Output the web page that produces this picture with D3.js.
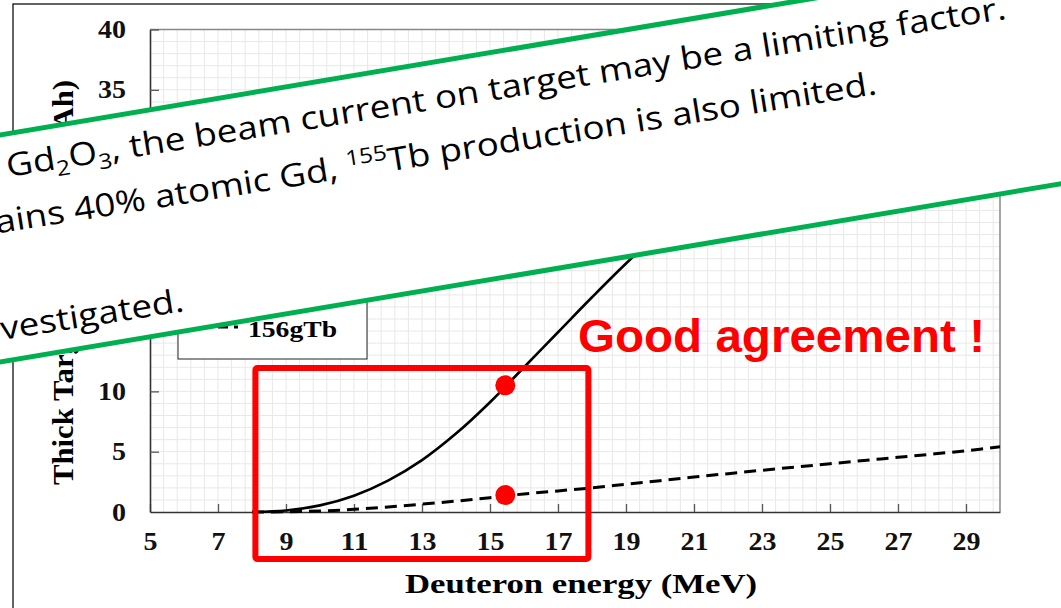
<!DOCTYPE html>
<html lang="en">
<head>
<meta charset="utf-8">
<title>Thick target yield</title>
<script src="https://cdn.jsdelivr.net/npm/d3@7/dist/d3.min.js"></script>
<style>
  body { margin: 0; background: #fff; }
  svg { display: block; }
</style>
</head>
<body>
<script>
// curve values
const energy    = [8, 9, 10, 11, 12, 13, 14, 15, 16, 17, 18, 19, 20, 21, 22, 23, 24, 25, 26, 27, 28, 29, 30];
const yield155  = [0, 0.12, 0.55, 1.35, 2.6, 4.3, 6.5, 9.1, 12.0, 14.9, 17.8, 20.6, 23.2, 25.5, 27.6, 29.4, 31.0, 32.5, 33.8, 35.0, 36.0, 36.9, 37.7];
const yield156g = [0, 0.02, 0.08, 0.22, 0.42, 0.65, 0.9, 1.18, 1.5, 1.75, 2.0, 2.3, 2.6, 2.9, 3.18, 3.46, 3.73, 4.0, 4.27, 4.53, 4.8, 5.08, 5.4];

// measured points (red dots)
const measuredE = [15.45, 15.45];
const measuredY = [10.5, 1.4];

const xTicks = [5, 7, 9, 11, 13, 15, 17, 19, 21, 23, 25, 27, 29];
const yTicks = [0, 5, 10, 15, 20, 25, 30, 35, 40];
const legendNames = ["155Tb", "156gTb"];

const xTitle = "Deuteron energy (MeV)";
const yTitle = "Thick Target Yield (MBq/\u03bcAh)";
const note = "Good agreement !";

// overlay slide text, one array per line: [text, kind]
const line1 = [["Gd", ""], ["2", "sub"], ["O", ""], ["3", "sub"], [", the beam current on target may be a limiting factor.", ""]];
const line2 = [["contains 40% atomic Gd, ", ""], ["155", "sup"], ["Tb production is also limited.", ""]];
const line4 = [["investigated.", ""]];

const W = 1061, H = 608;
const svg = d3.select("body").append("svg").attr("width", W).attr("height", H);

const x = d3.scaleLinear().domain([5, 30]).range([150, 1000]);
const y = d3.scaleLinear().domain([0, 40]).range([512, 29.5]);

// outer frame
svg.append("rect").attr("x", 13).attr("y", 4).attr("width", 1200).attr("height", 700)
  .attr("fill", "none").attr("stroke", "#111").attr("stroke-width", 1.3);

// grid
const grid = svg.append("g").attr("stroke", "#e8e8e8").attr("stroke-width", 1);
grid.selectAll(".gv").data(d3.range(1, 63).map(i => 5 + 0.4 * i)).enter().append("line")
  .attr("x1", d => x(d)).attr("x2", d => x(d)).attr("y1", y(40)).attr("y2", y(0));
grid.selectAll(".gh").data(d3.range(1, 40)).enter().append("line")
  .attr("x1", x(5)).attr("x2", x(30)).attr("y1", d => y(d)).attr("y2", d => y(d));

// top / right border
svg.append("path").attr("d", `M${x(5)},${y(40)}H${x(30)}V${y(0)}`)
  .attr("fill", "none").attr("stroke", "#888").attr("stroke-width", 1.5);

const tickFont = "'Liberation Serif', 'Times New Roman', serif";

const xAxis = svg.append("g").attr("transform", `translate(0,${y(0)})`)
  .call(d3.axisBottom(x).tickValues(xTicks).tickSizeInner(-8).tickSizeOuter(0).tickPadding(20));
const yAxis = svg.append("g").attr("transform", `translate(${x(5)},0)`)
  .call(d3.axisLeft(y).tickValues(yTicks).tickSizeInner(-9).tickSizeOuter(0).tickPadding(24));
[xAxis, yAxis].forEach(a => {
  a.select(".domain").attr("stroke", "#333").attr("stroke-width", 1.6);
  a.selectAll(".tick line").attr("stroke", "#555").attr("stroke-width", 1.3);
  a.selectAll(".tick text").attr("font-family", tickFont).attr("font-weight", "bold")
    .attr("font-size", 25).attr("fill", "#111")
    .attr("textLength", d => String(d).length * 14).attr("lengthAdjust", "spacingAndGlyphs");
});
yAxis.selectAll(".tick").filter(d => d === 0).select("line").remove();

// curves
const line = d3.line().x(d => x(d[0])).y(d => y(d[1])).curve(d3.curveCatmullRom.alpha(0.5));
svg.append("path").datum(d3.zip(energy, yield155)).attr("d", line)
  .attr("fill", "none").attr("stroke", "#000").attr("stroke-width", 2.6);
svg.append("path").datum(d3.zip(energy, yield156g)).attr("d", line)
  .attr("fill", "none").attr("stroke", "#000").attr("stroke-width", 3)
  .attr("stroke-dasharray", "12,7");

// legend
const lg = svg.append("g");
lg.append("rect").attr("x", 178).attr("y", 262).attr("width", 189).attr("height", 97)
  .attr("fill", "#fff").attr("stroke", "#222").attr("stroke-width", 1);
legendNames.forEach((name, i) => {
  const ly = 290 + i * 37;
  lg.append("line").attr("x1", 188).attr("x2", 238).attr("y1", ly).attr("y2", ly)
    .attr("stroke", "#000").attr("stroke-width", 3)
    .attr("stroke-dasharray", i === 1 ? "10,6" : null)
    .attr("stroke-dashoffset", i === 1 ? 2 : null);
  lg.append("text").attr("x", 248).attr("y", ly + 10).text(name)
    .attr("font-family", tickFont).attr("font-weight", "bold").attr("font-size", 24)
    .attr("textLength", 89).attr("lengthAdjust", "spacingAndGlyphs");
});

// axis titles
svg.append("text").attr("x", 581).attr("y", 593).attr("text-anchor", "middle").text(xTitle)
  .attr("font-family", tickFont).attr("font-weight", "bold").attr("font-size", 28)
  .attr("textLength", 352).attr("lengthAdjust", "spacingAndGlyphs");
svg.append("text").attr("transform", "translate(73,282.5) rotate(-90)").attr("text-anchor", "middle")
  .text(yTitle).attr("font-family", tickFont).attr("font-weight", "bold").attr("font-size", 30)
  .attr("textLength", 405).attr("lengthAdjust", "spacingAndGlyphs");

// red annotation box, dots and note
svg.append("rect").attr("x", x(8.1)).attr("y", 368).attr("width", 333).attr("height", 191)
  .attr("rx", 2).attr("fill", "none").attr("stroke", "#ff0000").attr("stroke-width", 6);
svg.selectAll(".dot").data(d3.zip(measuredE, measuredY)).enter().append("circle")
  .attr("cx", d => x(d[0])).attr("cy", d => y(d[1])).attr("r", 10).attr("fill", "#ff0000");
svg.append("text").attr("x", 578).attr("y", 352).text(note)
  .attr("font-family", "'Liberation Sans', Arial, sans-serif").attr("font-weight", "bold")
  .attr("font-size", 46).attr("fill", "#ff0000")
  .attr("textLength", 407).attr("lengthAdjust", "spacingAndGlyphs");

// slanted slide banner on top
const slope = 0.168;
const top0 = 135, bot0 = 362;
svg.append("polygon")
  .attr("points", [[-10, top0 + 10 * slope], [1080, top0 - 1080 * slope],
                   [1080, bot0 - 1080 * slope], [-10, bot0 + 10 * slope]].join(" "))
  .attr("fill", "#fff");

const tg = svg.append("g").attr("transform", "translate(8,177) rotate(-9)");
const bannerFont = "'Open Sans', 'Noto Sans', sans-serif";
function addLine(segs, anchor, lx, ly) {
  const g = tg.append("g").attr("transform", `translate(${lx},${ly})`);
  const t = g.append("text").attr("text-anchor", anchor)
    .attr("font-family", bannerFont).attr("font-size", 32).attr("fill", "#000");
  let shift = 0;
  segs.forEach(([str, kind]) => {
    const want = kind === "sub" ? 7 : kind === "sup" ? -12 : 0;
    t.append("tspan").attr("dy", want - shift).attr("font-size", kind ? 21 : 32).text(str);
    shift = want;
  });
  return g;
}
const g1 = addLine(line1, "start", 0, 0);
const g2 = addLine(line2, "end", 872, 54);
const g4 = addLine(line4, "end", 154, 160);
const natural = g1.select("text").node().getComputedTextLength();
const sx = 1012 / natural;
[[g1, 0, 0], [g2, 872, 54], [g4, 154, 160]].forEach(([g, lx, ly]) =>
  g.attr("transform", `translate(${lx},${ly}) scale(${sx},1)`));

const green = svg.append("g").attr("stroke", "#00b050").attr("stroke-width", 5);
green.append("line").attr("x1", -10).attr("y1", top0 + 10 * slope).attr("x2", 1080).attr("y2", top0 - 1080 * slope);
green.append("line").attr("x1", -10).attr("y1", bot0 + 10 * slope).attr("x2", 1080).attr("y2", bot0 - 1080 * slope);
</script>
</body>
</html>
